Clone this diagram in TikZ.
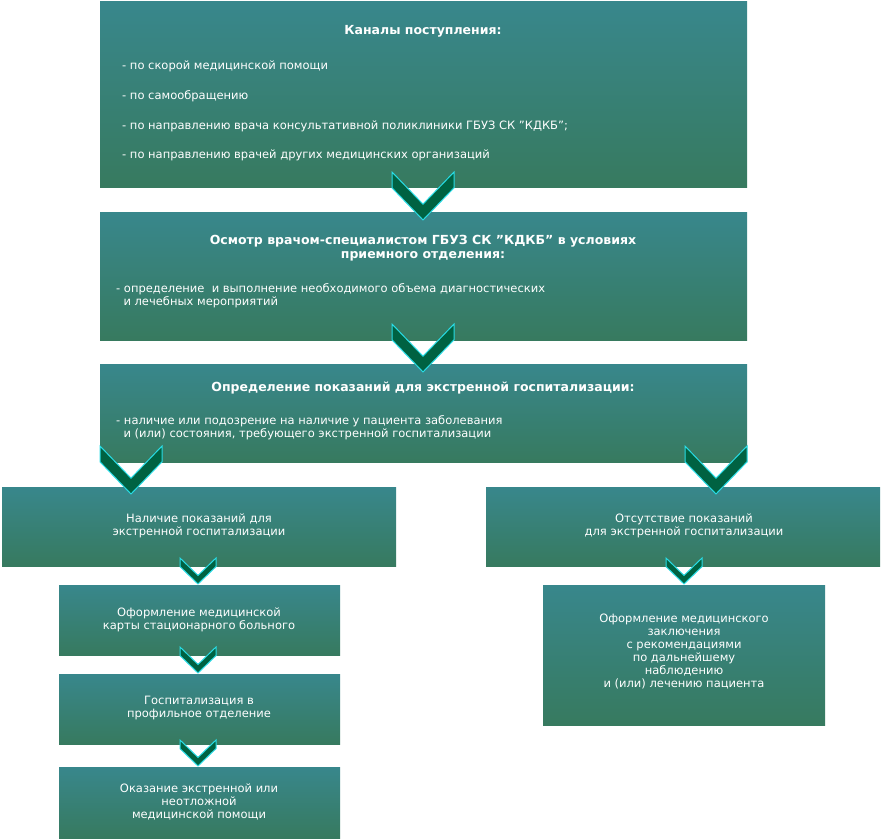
\documentclass[tikz,border=0pt]{standalone}
\usepackage{fontspec}
\setmainfont{DejaVu Sans}
\begin{document}
\begin{tikzpicture}[x=1pt,y=-1pt,
  box/.style={top color=boxtop,bottom color=boxbot,draw=none},
  txt/.style={text=white,font=\fontsize{11.5}{13}\selectfont,inner sep=0,align=center},
  ttl/.style={text=white,font=\bfseries\fontsize{12.5}{14}\selectfont,inner sep=0,align=center},
  lst/.style={text=white,font=\fontsize{11.5}{13}\selectfont,inner sep=0,anchor=west,align=left},
  chev/.style={fill=chevfill,draw=chevline,line width=1pt,line join=miter}]
\definecolor{boxtop}{RGB}{56,135,140}
\definecolor{boxbot}{RGB}{55,122,95}
\definecolor{chevfill}{RGB}{0,98,66}
\definecolor{chevline}{RGB}{40,220,230}
\useasboundingbox (0,0) rectangle (881,840);
\newcommand{\chevron}[4]{% x, ytop, half width, total height
  \filldraw[chev] (#1-#3,#2) -- (#1-#3,#2+#4*0.33) -- (#1,#2+#4) -- (#1+#3,#2+#4*0.33) -- (#1+#3,#2) -- (#1,#2+#4*0.67) -- cycle;}
\fill[box] (100,2) rectangle (747,187);
\fill[box] (100,212) rectangle (747,340);
\fill[box] (100,364) rectangle (747,462);
\fill[box] (2,487) rectangle (396,566);
\fill[box] (486,487) rectangle (880,566);
\fill[box] (59,585) rectangle (340,655);
\fill[box] (59,674) rectangle (340,744);
\fill[box] (59,767) rectangle (340,838);
\fill[box] (543,585) rectangle (825,725);
\node[ttl] (t1) at (423,31) {Каналы поступления:};
\node[lst] (l1) at (122,66) {- по скорой медицинской помощи};
\node[lst] (l2) at (122,96) {- по самообращению};
\node[lst] (l3) at (122,126) {- по направлению врача консультативной поликлиники ГБУЗ СК "КДКБ";};
\node[lst] (l4) at (122,155) {- по направлению врачей других медицинских организаций};
\node[ttl] (t2) at (423,248) {Осмотр врачом-специалистом ГБУЗ СК "КДКБ" в условиях\\приемного отделения:};
\node[lst] (l5) at (116,296) {- определение \ и выполнение необходимого объема диагностических\\\ \ и лечебных мероприятий};
\node[ttl] (t3) at (423,388) {Определение показаний для экстренной госпитализации:};
\node[lst] (l6) at (116,428) {- наличие или подозрение на наличие у пациента заболевания\\\ \ и (или) состояния, требующего экстренной госпитализации};
\node[txt] (t4) at (199,526) {Наличие показаний для\\экстренной госпитализации};
\node[txt] (t5) at (684,526) {Отсутствие показаний\\для экстренной госпитализации};
\node[txt] (t6) at (199,620) {Оформление медицинской\\карты стационарного больного};
\node[txt] (t7) at (199,708) {Госпитализация в\\профильное отделение};
\node[txt] (t8) at (199,802) {Оказание экстренной или\\неотложной\\медицинской помощи};
\node[txt] (t9) at (684,652) {Оформление медицинского\\заключения\\с рекомендациями\\по дальнейшему\\наблюдению\\и (или) лечению пациента};
\chevron{423}{172}{31}{48}
\chevron{423}{324}{31}{48}
\chevron{131}{446}{31}{48}
\chevron{716}{446}{31}{48}
\chevron{198}{558}{18}{26}
\chevron{198}{647}{18}{26}
\chevron{198}{740}{18}{26}
\chevron{684}{558}{18}{26}
\end{tikzpicture}
\end{document}
